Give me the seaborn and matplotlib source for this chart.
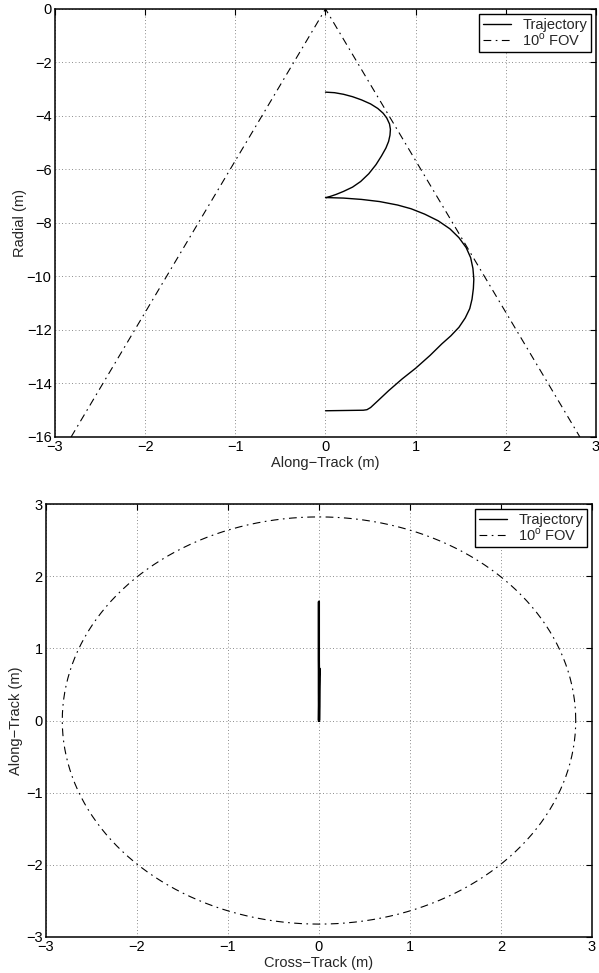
import numpy as np
import pandas as pd
import matplotlib
matplotlib.use("Agg")
import matplotlib.pyplot as plt
import seaborn as sns

# Approach trajectory, along-track (m) and radial (m)
along_track = [0.00, 0.10, 0.20, 0.30, 0.40, 0.50, 0.58, 0.64, 0.68, 0.71, 0.72, 0.715,
               0.70, 0.67, 0.62, 0.56, 0.48, 0.39, 0.30, 0.20, 0.12, 0.06, 0.01,
               0.00, 0.20, 0.40, 0.60, 0.80, 0.95, 1.10, 1.25, 1.38, 1.48, 1.56, 1.61,
               1.635, 1.645, 1.64, 1.625, 1.60, 1.55, 1.48, 1.39, 1.29, 1.16, 1.00, 0.85,
               0.70, 0.58, 0.50, 0.46, 0.42, 0.00]
radial = [-3.11, -3.13, -3.19, -3.28, -3.40, -3.55, -3.72, -3.90, -4.08, -4.30, -4.50, -4.72,
          -4.95, -5.20, -5.50, -5.82, -6.16, -6.45, -6.66, -6.82, -6.93, -7.00, -7.05,
          -7.05, -7.07, -7.12, -7.20, -7.33, -7.47, -7.67, -7.92, -8.22, -8.55, -8.92, -9.30,
          -9.70, -10.10, -10.45, -10.85, -11.20, -11.55, -11.90, -12.22, -12.52, -12.95, -13.43, -13.83,
          -14.27, -14.65, -14.90, -14.98, -15.00, -15.02]
# Cross-track drift (m) along the same trajectory
cross_track = [0.000, 0.001, 0.001, 0.002, 0.002, 0.003, 0.003, 0.004, 0.004, 0.004, 0.004, 0.004,
               0.004, 0.004, 0.003, 0.003, 0.002, 0.002, 0.001, 0.001, 0.000, 0.000, 0.000,
               0.000, 0.000, -0.001, -0.001, -0.001, -0.001, -0.001, -0.001, -0.001, -0.001, -0.001, -0.001,
               -0.001, -0.001, -0.001, -0.001, -0.001, -0.001, -0.001, -0.001, -0.001, -0.001, -0.001, -0.001,
               0.000, 0.000, 0.000, 0.000, 0.000, 0.000]

fov_half_angle_deg = 10.0
fov_range = 16.0

FS = 10.5

sns.set_style("white")
plt.rcParams["font.family"] = ["Liberation Sans", "DejaVu Sans"]
plt.rcParams["mathtext.fontset"] = "custom"
plt.rcParams["mathtext.rm"] = "Liberation Sans"
plt.rcParams["font.size"] = FS
plt.rcParams["xtick.direction"] = "in"
plt.rcParams["ytick.direction"] = "in"

fig = plt.figure(figsize=(5.99, 9.73), dpi=100)
ax1 = fig.add_axes([0.0918, 0.5509, 0.9032, 0.4399])
ax2 = fig.add_axes([0.0768, 0.0370, 0.9115, 0.4450])

fov_dashes = (7, 4, 1.5, 4)
half_width = fov_range * np.tan(np.deg2rad(fov_half_angle_deg))

# Side view: trajectory and FOV cone
traj_df = pd.DataFrame({"Along-Track": along_track, "Radial": radial,
                        "Cross-Track": cross_track})
fov_side = pd.DataFrame({"x": [-half_width, 0.0, half_width],
                         "y": [-fov_range, 0.0, -fov_range]})
sns.lineplot(data=traj_df, x="Along-Track", y="Radial", sort=False, estimator=None,
             color="black", linewidth=1.0, ax=ax1, label="Trajectory")
sns.lineplot(data=fov_side, x="x", y="y", sort=False, estimator=None,
             color="black", linewidth=0.8, ax=ax1, label="10$^{\\mathrm{o}}$ FOV")
ax1.lines[1].set_dashes(fov_dashes)

# Plan view: trajectory and FOV circle at range
theta = np.linspace(0, 2 * np.pi, 361)
fov_top = pd.DataFrame({"x": half_width * np.cos(theta), "y": half_width * np.sin(theta)})
sns.lineplot(data=traj_df, x="Cross-Track", y="Along-Track", sort=False, estimator=None,
             color="black", linewidth=1.6, ax=ax2, label="Trajectory")
sns.lineplot(data=fov_top, x="x", y="y", sort=False, estimator=None,
             color="black", linewidth=0.8, ax=ax2, label="10$^{\\mathrm{o}}$ FOV")
ax2.lines[1].set_dashes(fov_dashes)

ax1.set_xlim(-3, 3)
ax1.set_ylim(-16, 0)
ax1.set_xticks(np.arange(-3, 4, 1))
ax1.set_yticks(np.arange(-16, 1, 2))
ax1.set_xlabel("Along\u2212Track (m)", labelpad=1)
ax1.set_ylabel("Radial (m)", labelpad=0)

ax2.set_xlim(-3, 3)
ax2.set_ylim(-3, 3)
ax2.set_xticks(np.arange(-3, 4, 1))
ax2.set_yticks(np.arange(-3, 4, 1))
ax2.set_xlabel("Cross\u2212Track (m)", labelpad=1)
ax2.set_ylabel("Along\u2212Track (m)", labelpad=2)

for ax in (ax1, ax2):
    ax.grid(True, linestyle=(0, (1, 3)), color="#666666", linewidth=0.6)
    ax.tick_params(axis="both", which="both", direction="in", top=True, right=True,
                   length=4, width=0.8, pad=2.5, labelsize=FS, colors="black")
    for s in ax.spines.values():
        s.set_visible(True)
        s.set_color("black")
        s.set_linewidth(1.1)
    leg = ax.legend(loc="upper right", frameon=True, fancybox=False, framealpha=1,
                    edgecolor="black", fontsize=FS, handlelength=1.9, handletextpad=0.8,
                    borderaxespad=0.35, borderpad=0.25, labelspacing=0.0)
    leg.get_frame().set_linewidth(1.0)
    leg.get_lines()[0].set_linewidth(1.0)
    leg.get_lines()[1].set_dashes(fov_dashes)

fig.savefig("out.png", dpi=100)
